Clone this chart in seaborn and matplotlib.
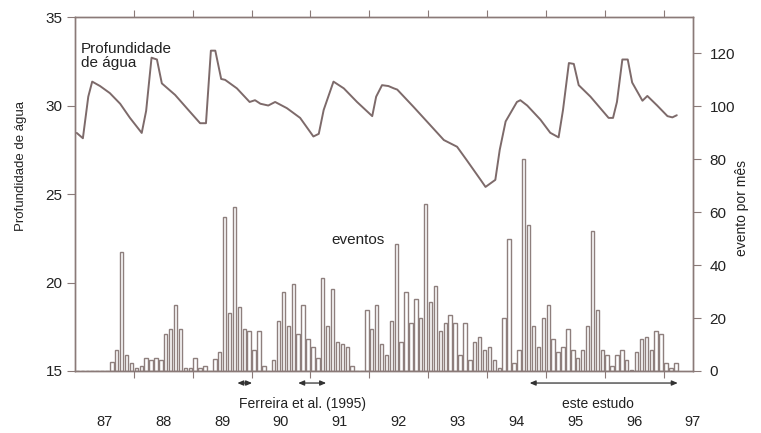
import matplotlib
matplotlib.use("Agg")
import matplotlib.pyplot as plt
import numpy as np
import seaborn as sns

sns.set_style("ticks")
plt.rcParams["font.family"] = ["Liberation Sans", "DejaVu Sans"]

# eventos por mes, jan/87 .. mar/97 (mes 0 = jan 1987)
eventos = [
    0, 0, 0, 0, 0, 0, 0, 3.5, 8, 45, 6, 3,
    1, 2, 5, 4, 5, 4, 14, 16, 25, 16, 1, 1,
    5, 1, 2, 0, 4.5, 7, 58, 22, 62, 24, 16, 15,
    8, 15, 2, 0, 4, 19, 30, 17, 33, 14, 25, 12,
    9, 5, 35, 17, 31, 11, 10, 9, 2, 0, 0, 23,
    16, 25, 10, 6, 19, 48, 11, 30, 18, 27, 20, 63,
    26, 32, 15, 18, 21, 18, 6, 18, 4, 11, 13, 8,
    9, 4, 1, 20, 50, 3, 8, 80, 55, 17, 9, 20,
    25, 12, 7, 9, 16, 8, 5, 8, 17, 53, 23, 8,
    6, 2, 6, 8, 4, 0.5, 7, 12, 13, 8, 15, 14,
    3, 1, 3,
]
meses = [m + 0.5 for m in range(len(eventos))]

# profundidade de agua (m)
prof_mes = [
    0.35, 1.6, 2.7, 3.5, 5.1, 7.1, 9.2, 11.2, 13.6, 14.5, 15.6, 16.7,
    17.7, 20.4, 23.1, 25.5, 26.7, 27.7, 28.6, 29.8, 30.6, 33.0, 35.6, 36.7,
    37.8, 39.4, 40.8, 43.2, 45.9, 48.6, 49.7, 50.7, 52.7, 54.8, 57.5, 60.6,
    61.4, 62.6, 63.9, 65.0, 65.7, 69.0, 72.4, 75.2, 77.9, 79.9, 82.7, 83.7,
    85.7, 86.6, 87.8, 90.1, 90.8, 92.2, 94.9, 96.9, 98.6, 99.5, 100.7, 101.7,
    102.7, 105.1, 108.8, 109.7, 110.5, 111.6, 112.7, 113.6, 115.7, 116.7, 118.7, 120.8,
    121.8, 122.7,
]
prof = [
    28.45, 28.15, 30.5, 31.35, 31.1, 30.7, 30.1, 29.3, 28.45, 29.7, 32.7, 32.6,
    31.25, 30.6, 29.75, 29.0, 29.0, 33.1, 33.1, 31.5, 31.45, 30.97, 30.2, 30.3,
    30.1, 30.0, 30.2, 29.85, 29.3, 28.25, 28.4, 29.75, 31.35, 30.97, 30.2, 29.4,
    30.5, 31.15, 31.1, 30.97, 30.9, 29.93, 28.9, 28.05, 27.67, 26.9, 25.8, 25.4,
    25.8, 27.5, 29.1, 30.2, 30.3, 30.0, 29.2, 28.46, 28.2, 29.75, 32.4, 32.35,
    31.15, 30.5, 29.3, 29.3, 30.2, 32.6, 32.6, 31.3, 30.27, 30.54, 30.0, 29.4,
    29.33, 29.45,
]

anos = ["87", "88", "89", "90", "91", "92", "93", "94", "95", "96", "97"]
ferreira = [(33.1, 36.1), (45.5, 51.2)]
este_estudo = (92.7, 122.9)

cor_linha = "#7d6a6a"
cor_barra = "#8e7f7d"
cor_eixo = "#8a7a78"
cor_texto = "#222222"

fig, ax = plt.subplots(figsize=(7.61, 4.33), dpi=100)
fig.subplots_adjust(left=0.0986, right=0.9106, bottom=0.1432, top=0.9607)
ax2 = ax.twinx()

sns.barplot(x=meses, y=eventos, native_scale=True, ax=ax2, color="white",
            saturation=1, edgecolor=cor_barra, linewidth=1.0, width=0.7,
            errorbar=None)
sns.lineplot(x=prof_mes, y=prof, ax=ax, color=cor_linha, linewidth=1.4)

ax.set_zorder(ax2.get_zorder() + 1)
ax.patch.set_visible(False)

ax.set_xlim(0, 126)
ax2.set_xlim(0, 126)
ax.set_ylim(15, 35)
ax.set_yticks([15, 20, 25, 30, 35])
ax2.set_ylim(0, 133.6)
ax2.set_yticks(range(0, 121, 20))

ax.set_xticks(range(12, 121, 12), labels=[])
ax.set_xticks([6 + 12 * i for i in range(len(anos))], labels=anos, minor=True)
ax.tick_params(axis="x", which="major", top=True, bottom=True, direction="out",
               length=5, color=cor_eixo)
ax.tick_params(axis="x", which="minor", length=0, pad=32, labelsize=10.5,
               labelcolor=cor_texto)
ax.tick_params(axis="y", direction="out", length=6, color=cor_eixo,
               labelsize=11, labelcolor=cor_texto, pad=3)
ax2.tick_params(axis="y", direction="out", length=6, color=cor_eixo,
                labelsize=11, labelcolor=cor_texto, pad=6)
ax2.tick_params(axis="x", which="both", bottom=False, top=False,
                labelbottom=False)

for a in (ax, ax2):
    for s in a.spines.values():
        s.set_visible(True)
        s.set_color(cor_eixo)
        s.set_linewidth(1.0)

ax.set_xlabel("")
ax.set_ylabel("Profundidade de água", fontsize=9.5, color=cor_texto)
ax.yaxis.set_label_coords(-0.078, 0.58)
ax2.set_ylabel("evento por mês", fontsize=10, color=cor_texto)
ax2.yaxis.set_label_coords(1.068, 0.46)

ax.text(1.2, 32.8, "Profundidade\nde água", fontsize=11, color=cor_texto,
        ha="left", va="center", linespacing=1.0)
ax2.text(57.6, 49.5, "eventos", fontsize=11, color=cor_texto,
         ha="center", va="center")

seta = dict(arrowstyle="<|-|>,head_length=0.35,head_width=0.15",
            color="#333333", lw=0.9, shrinkA=0, shrinkB=0)
for ini, fim in ferreira + [este_estudo]:
    ax.annotate("", xy=(ini, -0.034), xytext=(fim, -0.034),
                xycoords=("data", "axes fraction"),
                textcoords=("data", "axes fraction"),
                arrowprops=seta, annotation_clip=False)

ax.text(46.3, -0.093, "Ferreira et al. (1995)", fontsize=10, color=cor_texto,
        ha="center", va="center", transform=ax.get_xaxis_transform())
ax.text(106.7, -0.093, "este estudo", fontsize=10, color=cor_texto,
        ha="center", va="center", transform=ax.get_xaxis_transform())

fig.savefig("out.png", dpi=100)
